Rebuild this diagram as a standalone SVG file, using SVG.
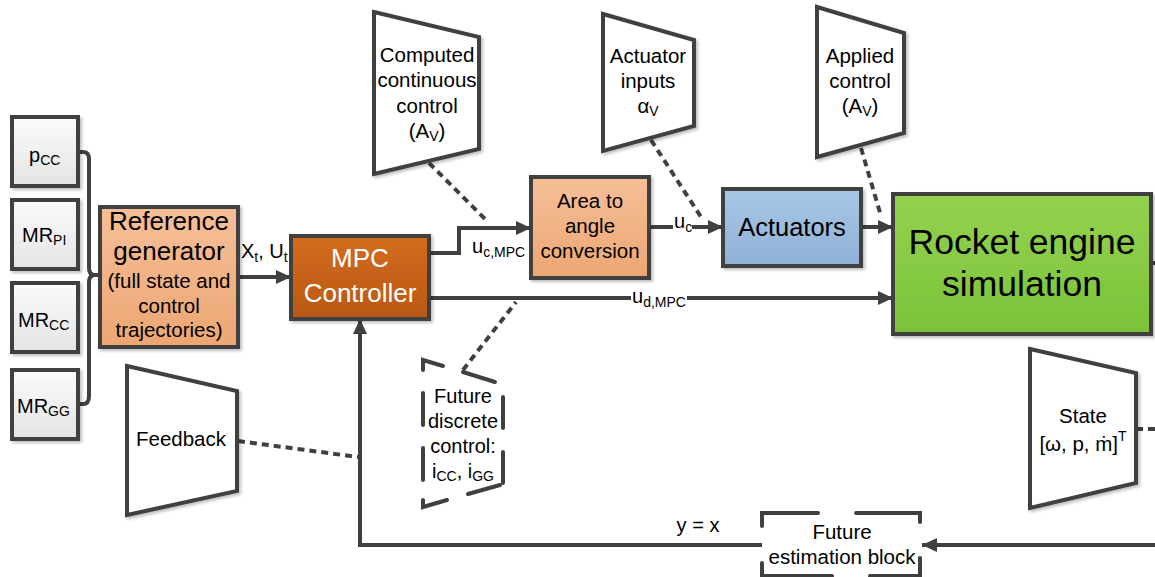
<svg xmlns="http://www.w3.org/2000/svg" width="1155" height="577" viewBox="0 0 1155 577">
<defs>
  <linearGradient id="gGray" x1="0" y1="0" x2="0" y2="1"><stop offset="0" stop-color="#fbfbfb"/><stop offset="1" stop-color="#e4e4e4"/></linearGradient>
  <linearGradient id="gOrange" x1="0" y1="0" x2="0" y2="1"><stop offset="0" stop-color="#f6bf98"/><stop offset="1" stop-color="#eca673"/></linearGradient>
  <linearGradient id="gMpc" x1="0" y1="0" x2="0" y2="1"><stop offset="0" stop-color="#d36c1f"/><stop offset="1" stop-color="#b95814"/></linearGradient>
  <linearGradient id="gBlue" x1="0" y1="0" x2="0" y2="1"><stop offset="0" stop-color="#a9c7e5"/><stop offset="1" stop-color="#8eb1d6"/></linearGradient>
  <linearGradient id="gGreen" x1="0" y1="0" x2="0" y2="1"><stop offset="0" stop-color="#94d24f"/><stop offset="1" stop-color="#7bc23a"/></linearGradient>
  <filter id="sh" x="-10%" y="-10%" width="130%" height="130%"><feDropShadow dx="2" dy="2" stdDeviation="1.5" flood-color="#000" flood-opacity="0.25"/></filter>
  <marker id="ah" markerUnits="userSpaceOnUse" markerWidth="16" markerHeight="14" refX="15" refY="7" orient="auto">
    <path d="M0,0 L15,7 L0,14 z" fill="#404040"/>
  </marker>
  <style>
    .box{stroke:#404040;stroke-width:4;filter:url(#sh)}
    .trap{fill:#fff;stroke:#404040;stroke-width:4;stroke-linejoin:miter;filter:url(#sh)}
    .dashedshape{fill:none;stroke:#404040;stroke-width:4;stroke-linecap:round}
    .conn{fill:none;stroke:#404040;stroke-width:4}
    .arrow{fill:none;stroke:#404040;stroke-width:4;marker-end:url(#ah)}
    .dot{fill:none;stroke:#404040;stroke-width:4;stroke-dasharray:7 5}
    text{font-family:"Liberation Sans",Arial,sans-serif;fill:#000}
    .t20{font-size:20.5px;text-anchor:middle}
    .t26{font-size:26px;text-anchor:middle}
    .big{font-size:35.5px;text-anchor:middle}
    .lbl{font-size:20px}
    .sub{font-size:14px}
  </style>
</defs>

<g id="connectors">
  <path class="conn" d="M78,152 H83 Q89,152 89,159 V268 Q89,275 95,275 H100 M95,275 Q89,275 89,282 V396 Q89,404 83,404 H78"/>
  <path class="arrow" d="M238,277 H291"/>
  <path class="arrow" d="M429,253 H459 V228 H531"/>
  <path class="arrow" d="M429,298 H893"/>
  <path class="arrow" d="M649,227 H723"/>
  <path class="arrow" d="M861,227 H893"/>
  <path class="conn" d="M1151,263 H1155"/>
  <path class="arrow" d="M1155,545 H922"/>
  <path class="arrow" d="M762,545 H360 V319"/>
  <path class="dot" d="M429,163 L486,220"/>
  <path class="dot" d="M651,140 L703,220"/>
  <path class="dot" d="M861,148 L881,216"/>
  <path class="dot" d="M463,370 L516,302"/>
  <path class="dot" d="M238,441 L358,457"/>
  <path class="dot" d="M1136,429 H1155"/>
  <rect x="631" y="289" width="56" height="20" fill="#fff"/>
  <text class="lbl" x="632" y="303">u<tspan class="sub" dy="4">d,MPC</tspan></text>
  <rect x="673" y="214" width="19" height="22" fill="#fff"/>
  <text class="lbl" x="674" y="228">u<tspan class="sub" dy="4">c</tspan></text>
  <text class="lbl" x="472" y="253">u<tspan class="sub" dy="4">c,MPC</tspan></text>
  <text class="lbl" x="241" y="258">X<tspan class="sub" dy="4">t</tspan><tspan dy="-4">, U</tspan><tspan class="sub" dy="4">t</tspan></text>
  <text class="lbl" x="698" y="532" text-anchor="middle">y = x</text>
</g>

<g id="node-pcc">
  <rect class="box" x="12" y="117" width="66" height="69" fill="url(#gGray)"/>
  <text class="lbl" x="29" y="162">p<tspan class="sub" dy="3">CC</tspan></text>
</g>
<g id="node-mrpi">
  <rect class="box" x="12" y="200" width="66" height="69" fill="url(#gGray)"/>
  <text class="lbl" x="22" y="242">MR<tspan class="sub" dy="3">PI</tspan></text>
</g>
<g id="node-mrcc">
  <rect class="box" x="12" y="283" width="66" height="69" fill="url(#gGray)"/>
  <text class="lbl" x="18" y="327">MR<tspan class="sub" dy="3">CC</tspan></text>
</g>
<g id="node-mrgg">
  <rect class="box" x="12" y="370" width="66" height="69" fill="url(#gGray)"/>
  <text class="lbl" x="17" y="413">MR<tspan class="sub" dy="3">GG</tspan></text>
</g>

<g id="node-refgen">
  <rect class="box" x="100" y="207" width="138" height="140" fill="url(#gOrange)"/>
  <text class="t26" x="169" y="230">Reference</text>
  <text class="t26" x="169" y="260">generator</text>
  <text class="t20" x="169" y="288">(full state and</text>
  <text class="t20" x="169" y="313">control</text>
  <text class="t20" x="169" y="337">trajectories)</text>
</g>

<g id="node-mpc">
  <rect class="box" x="291" y="236" width="138" height="83" fill="url(#gMpc)"/>
  <text class="t26" x="360" y="267" style="fill:#fff">MPC</text>
  <text class="t26" x="360" y="302" style="fill:#fff">Controller</text>
</g>

<g id="node-area">
  <rect class="box" x="531" y="177" width="118" height="101" fill="url(#gOrange)"/>
  <text class="t20" x="590" y="208">Area to</text>
  <text class="t20" x="590" y="233">angle</text>
  <text class="t20" x="590" y="258">conversion</text>
</g>

<g id="node-actuators">
  <rect class="box" x="723" y="189" width="138" height="77" fill="url(#gBlue)"/>
  <text x="792" y="236" style="font-size:25.5px;text-anchor:middle">Actuators</text>
</g>

<g id="node-rocket">
  <rect class="box" x="893" y="194" width="258" height="140" fill="url(#gGreen)"/>
  <text class="big" x="1022" y="254">Rocket engine</text>
  <text class="big" x="1022" y="296">simulation</text>
</g>

<g id="node-computed">
  <polygon class="trap" points="374,12 479,37 479,149 374,174"/>
  <text class="t20" x="427" y="62">Computed</text>
  <text class="t20" x="427" y="87">continuous</text>
  <text class="t20" x="427" y="113">control</text>
  <text class="t20" x="427" y="138">(A<tspan class="sub" dy="3">V</tspan><tspan dy="-3">)</tspan></text>
</g>

<g id="node-actinputs">
  <polygon class="trap" points="603,14 694,40 694,126 603,151"/>
  <text class="t20" x="648" y="63">Actuator</text>
  <text class="t20" x="648" y="88">inputs</text>
  <text class="t20" x="648" y="113">α<tspan class="sub" dy="3">V</tspan></text>
</g>

<g id="node-applied">
  <polygon class="trap" points="817,7 904,33 904,133 817,157"/>
  <text class="t20" x="860" y="63">Applied</text>
  <text class="t20" x="860" y="88">control</text>
  <text class="t20" x="860" y="113">(A<tspan class="sub" dy="3">V</tspan><tspan dy="-3">)</tspan></text>
</g>

<g id="node-feedback">
  <polygon class="trap" points="127,366 237,391 237,491 127,515"/>
  <text class="t20" x="181" y="446">Feedback</text>
</g>

<g id="node-state">
  <polygon class="trap" points="1030,349 1136,373 1136,483 1030,508"/>
  <text class="t20" x="1083" y="423">State</text>
  <text class="t20" x="1083" y="451">[ω, p, ṁ]<tspan class="sub" dy="-10">T</tspan></text>
</g>

<g id="node-future-discrete">
  <path class="dashedshape" d="M423,370 V360 L443,366 M463,372 L495,382 M503,397 V428 M503,452 V483 M500,485 L468,494 M447,500 L423,507 V500 M423,393 V425 M423,448 V480"/>
  <text class="lbl" x="463" y="403" text-anchor="middle">Future</text>
  <text class="lbl" x="463" y="428" text-anchor="middle">discrete</text>
  <text class="lbl" x="463" y="453" text-anchor="middle">control:</text>
  <text class="lbl" x="463" y="478" text-anchor="middle">i<tspan class="sub" dy="3">CC</tspan><tspan dy="-3">, i</tspan><tspan class="sub" dy="3">GG</tspan></text>
</g>

<g id="node-future-estimation">
  <path class="dashedshape" d="M762,526 V513 H818 M856,513 H920 V522 M920,558 V576 H870 M832,576 H762 V563"/>
  <text class="t20" x="842" y="539">Future</text>
  <text class="t20" x="842" y="564">estimation block</text>
</g>
</svg>
